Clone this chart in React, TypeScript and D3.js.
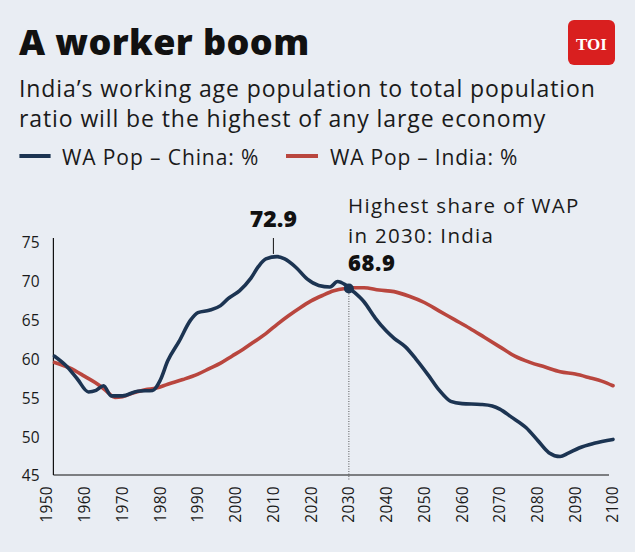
import React from "react";
import * as d3 from "d3";

const chinaYears = [1952,1955,1958,1961,1963,1965,1967,1970,1974,1978,1980,1982,1985,1988,1990,1993,1996,1998,2001,2004,2006,2008,2011,2013,2016,2019,2022,2025,2027,2029,2031,2034,2037,2040,2042,2045,2048,2051,2054,2057,2060,2065,2068,2070,2073,2077,2080,2083,2086,2088,2091,2095,2100];
const chinaValues = [60.4,59.2,57.5,55.8,56.0,56.6,55.3,55.3,55.9,56.0,57.3,59.8,62.3,65.0,66.0,66.3,66.9,67.8,68.8,70.4,71.9,72.9,73.2,72.9,71.8,70.3,69.5,69.3,70.0,69.6,68.8,67.4,65.3,63.6,62.7,61.6,59.9,58.0,56.0,54.6,54.3,54.2,54.0,53.6,52.6,51.2,49.6,48.0,47.5,47.9,48.6,49.2,49.7];

const indiaYears = [1952,1956,1960,1964,1966,1968,1970,1973,1976,1979,1982,1986,1990,1993,1996,1999,2002,2005,2008,2011,2014,2017,2020,2023,2026,2029,2031,2034,2038,2042,2046,2050,2054,2058,2062,2066,2070,2074,2078,2082,2086,2090,2094,2097,2100];
const indiaValues = [59.6,58.9,57.8,56.6,55.8,55.1,55.2,55.7,56.1,56.3,56.8,57.4,58.1,58.8,59.5,60.4,61.3,62.3,63.3,64.5,65.6,66.6,67.5,68.2,68.8,69.1,69.2,69.2,68.9,68.7,68.1,67.3,66.2,65.1,64.0,62.8,61.6,60.4,59.6,59.0,58.4,58.1,57.6,57.2,56.6];

const xTicks = [1950,1960,1970,1980,1990,2000,2010,2020,2030,2040,2050,2060,2070,2080,2090,2100];
const yTicks = [45,50,55,60,65,70,75];

const seriesNames = ["WA Pop – China: %", "WA Pop – India: %"];
const titleText = "A worker boom";
const subtitleLines = ["India’s working age population to total population", "ratio will be the highest of any large economy"];
const peakYear = 2010;
const peakValue = 72.9;
const peakLabel = "72.9";
const markYear = 2030;
const markValue = 69.1;
const markLabel = "68.9";
const markNote = ["Highest share of WAP", "in 2030: India"];

const BG = "#e9edf3";
const NAVY = "#1c3452";
const RED = "#b9463e";
const FONT = "'Open Sans', sans-serif";

export default function App() {
  const W = 635, H = 552;
  const x = d3.scaleLinear().domain([1950, 2100]).range([47, 613]);
  const y = d3.scaleLinear().domain([45, 75]).range([476, 242.6]);
  const axisLeft = 53.4, axisRight = 609, axisBottom = 475, axisTop = 238;

  const line = d3.line<[number, number]>()
    .x(d => x(d[0]))
    .y(d => y(d[1]))
    .curve(d3.curveMonotoneX);

  const china = chinaYears.map((yr, i) => [yr, chinaValues[i]] as [number, number]);
  const india = indiaYears.map((yr, i) => [yr, indiaValues[i]] as [number, number]);

  return (
    <svg width={W} height={H} style={{ position: "absolute", left: 0, top: 0, display: "block" }} fontFamily={FONT}>
      <rect width={W} height={H} fill={BG} />
      {/* Title */}
      <text x={19} y={55} fontSize={36} fontWeight={800} fill="#111" letterSpacing={0.4}>{titleText}</text>
      {subtitleLines.map((s, i) => (
        <text key={i} x={19} y={97 + i * 30} fontSize={23} letterSpacing={0.9} fill="#1a1a1a">{s}</text>
      ))}
      {/* Logo */}
      <rect x={568} y={20} width={47} height={45} rx={6} fill="#d91f1f" />
      <text x={591.5} y={49.5} textAnchor="middle" fontFamily="'Liberation Serif', serif" fontWeight={700} fontSize={17} fill="#fff">TOI</text>
      {/* Legend */}
      <line x1={19.4} x2={50.6} y1={156} y2={156} stroke={NAVY} strokeWidth={4} />
      <text x={62} y={164.5} fontSize={21} letterSpacing={0.9} fill="#1a1a1a">{seriesNames[0]}</text>
      <line x1={286} x2={318} y1={156} y2={156} stroke={RED} strokeWidth={4} />
      <text x={330} y={164.5} fontSize={21} letterSpacing={0.8} fill="#1a1a1a">{seriesNames[1]}</text>

      {/* Axes */}
      <line x1={axisLeft} x2={axisLeft} y1={axisTop} y2={axisBottom} stroke="#111" strokeWidth={1.2} />
      <line x1={axisLeft} x2={axisRight} y1={axisBottom} y2={axisBottom} stroke="#111" strokeWidth={1.2} />
      {yTicks.map(t => (
        <text key={t} x={40} y={y(t)} dy="0.35em" textAnchor="end" fontSize={15.5} letterSpacing={0.3} fill="#1a1a1a">{t}</text>
      ))}
      {xTicks.map(t => (
        <text key={t} transform={`translate(${x(t)},486) rotate(-90)`} dy="0.35em" textAnchor="end" fontSize={15.5} letterSpacing={0.3} fill="#1a1a1a">{t}</text>
      ))}

      {/* Dotted marker line */}
      <line x1={x(markYear)} x2={x(markYear)} y1={y(markValue)} y2={axisBottom + 5} stroke="#333" strokeWidth={0.8} strokeDasharray="1,1.5" />

      {/* Series */}
      <path d={line(india) || ""} fill="none" stroke={RED} strokeWidth={3.6} strokeLinejoin="round" strokeLinecap="round" />
      <path d={line(china) || ""} fill="none" stroke={NAVY} strokeWidth={3.6} strokeLinejoin="round" strokeLinecap="round" />

      {/* Peak annotation */}
      <line x1={x(peakYear)} x2={x(peakYear)} y1={238} y2={y(peakValue) - 5} stroke="#111" strokeWidth={1} />
      <text x={x(peakYear)} y={227} textAnchor="middle" fontSize={23} fontWeight={800} fill="#111">{peakLabel}</text>

      {/* 2030 annotation */}
      <circle cx={x(markYear)} cy={y(markValue)} r={5} fill={NAVY} />
      {markNote.map((s, i) => (
        <text key={i} x={348} y={213 + i * 30} fontSize={20.5} letterSpacing={1.3} fill="#1a1a1a">{s}</text>
      ))}
      <text x={348} y={271} fontSize={22} fontWeight={800} letterSpacing={0.6} fill="#111">{markLabel}</text>
    </svg>
  );
}
